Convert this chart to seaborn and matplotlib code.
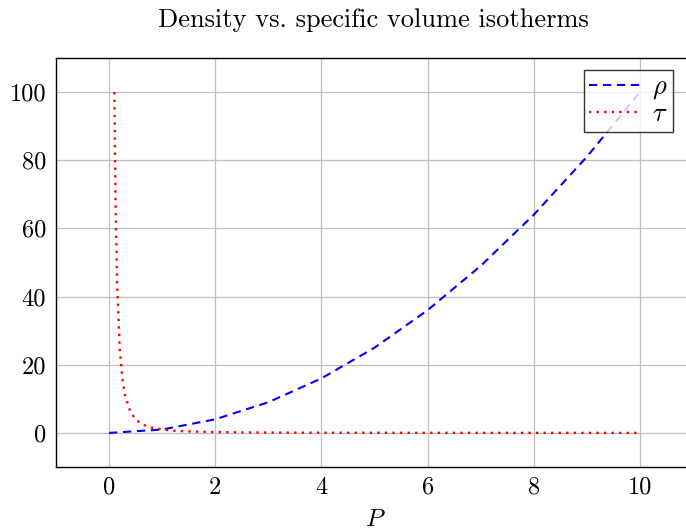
import matplotlib
matplotlib.use("Agg")
import matplotlib.pyplot as plt
import seaborn as sns
import pandas as pd

# Data
p_rho = [0, 1, 2, 3, 4, 5, 6, 7, 8, 9, 10]
rho = [0, 1, 4, 9, 16, 25, 36, 49, 64, 81, 100]
p_tau = [0.1, 0.12, 0.15, 0.2, 0.25, 0.3, 0.4, 0.5, 0.6, 0.7, 0.8, 1.0, 1.25, 1.5, 2, 2.5, 3, 4, 5, 6, 7, 8, 9, 10]
tau = [100, 69.4, 44.4, 25, 16, 11.1, 6.25, 4, 2.78, 2.04, 1.56, 1.0, 0.64, 0.44, 0.25, 0.16, 0.11, 0.06, 0.04, 0.03, 0.02, 0.016, 0.012, 0.01]
x_ticks = [0, 2, 4, 6, 8, 10]
y_ticks = [0, 20, 40, 60, 80, 100]

sns.set_theme(style="white")
plt.rcParams['font.family'] = ['cmr10', 'DejaVu Serif']
plt.rcParams['mathtext.fontset'] = 'cm'
plt.rcParams['axes.formatter.use_mathtext'] = True
plt.rcParams['axes.unicode_minus'] = False
plt.rcParams['text.color'] = 'black'
plt.rcParams['xtick.color'] = 'black'
plt.rcParams['ytick.color'] = 'black'
plt.rcParams['axes.labelcolor'] = 'black'

df_rho = pd.DataFrame({"P": p_rho, "v": rho, "s": r"$\rho$"})
df_tau = pd.DataFrame({"P": p_tau, "v": tau, "s": r"$\tau$"})

fig = plt.figure(figsize=(6.86, 5.31), dpi=100)
W, H = 686, 531
left, right, top, bottom = 56, 693, 58, 467
ax = fig.add_axes([left / W, 1 - bottom / H, (right - left) / W, (bottom - top) / H])

sns.lineplot(data=df_rho, x="P", y="v", ax=ax, color="blue", linestyle=(0, (4, 2.7)), linewidth=1.5, label=r"$\rho$")
sns.lineplot(data=df_tau, x="P", y="v", ax=ax, color="red", linestyle=(0, (1, 2.2)), linewidth=1.7, label=r"$\tau$")

ax.set_xlim(-1, 11)
ax.set_ylim(-10, 110)
ax.set_xticks(x_ticks)
ax.set_yticks(y_ticks)
ax.set_xticklabels([str(t) for t in x_ticks])
ax.set_yticklabels([str(t) for t in y_ticks])
ax.tick_params(axis='both', labelsize=17.5, direction='in', length=4, color='#888888', labelcolor='black')
ax.tick_params(axis='x', pad=7)
ax.tick_params(axis='y', pad=7)
ax.grid(True, color='#bfbfbf', linewidth=0.9)
for s in ax.spines.values():
    s.set_color('black')
    s.set_linewidth(1.0)

ax.set_xlabel("")
ax.set_ylabel("")
fig.text(375.5 / W, 1 - 520 / H, r"$P$", ha='center', va='center', fontsize=18)
fig.text(373 / W, 1 - 20 / H, "Density vs. specific volume isotherms", ha='center', va='center', fontsize=19, color='black')

leg = ax.legend(loc='upper right', bbox_to_anchor=((673 - left) / (right - left), (467 - 70) / (bottom - top)),
                frameon=True, fancybox=False, edgecolor='black', fontsize=19,
                handlelength=2.0, borderpad=0.2, labelspacing=0.05, handletextpad=0.4, borderaxespad=0)
leg.get_frame().set_linewidth(1.0)

fig.savefig("out.png", dpi=100)
